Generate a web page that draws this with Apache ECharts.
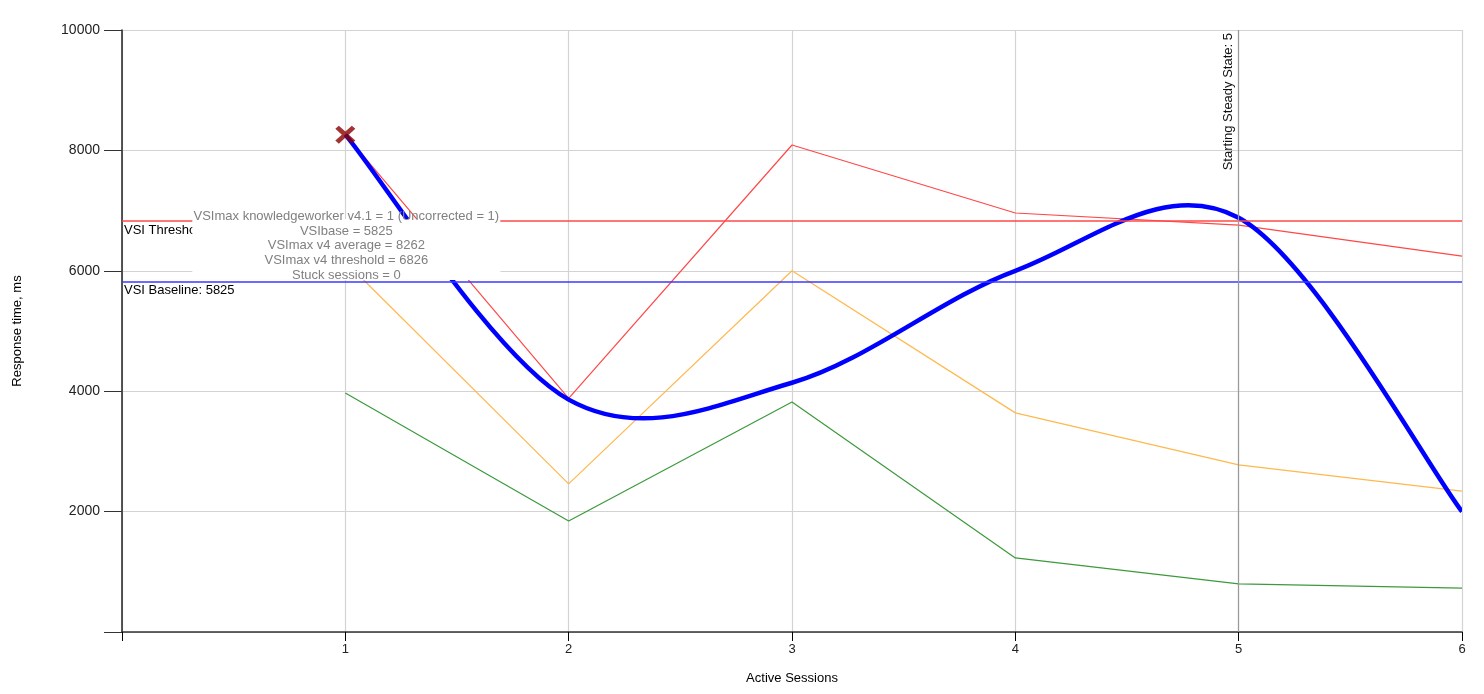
<!DOCTYPE html>
<html>
<head>
<meta charset="utf-8">
<script src="https://cdn.jsdelivr.net/npm/echarts@6/dist/echarts.min.js"></script>
<style>
html,body{margin:0;padding:0;background:#fff;}
#chart{width:1484px;height:694px;}
</style>
</head>
<body>
<div id="chart"></div>
<script>
const sessions = [1, 2, 3, 4, 5, 6];
const vsiIndexAvg = [8262, 3860, 4140, 6000, 6880, 2000];
const maxResp = [8262, 3880, 8090, 6960, 6760, 6245];
const medianResp = [6150, 2460, 6000, 3640, 2775, 2340];
const minResp = [3970, 1845, 3820, 1230, 800, 730];
const vsiThreshold = 6826;
const vsiBaseline = 5825;
const steadyStateAt = 5;
const vsimaxAt = 1;
const vsimaxValue = 8262;
const xTicks = [0, 1, 2, 3, 4, 5, 6];
const yTicks = [0, 2000, 4000, 6000, 8000, 10000];
const infoLines = [
  'VSImax knowledgeworker v4.1 = 1 (Uncorrected = 1)',
  'VSIbase = 5825',
  'VSImax v4 average = 8262',
  'VSImax v4 threshold = 6826',
  'Stuck sessions = 0'
];

const pairs = arr => sessions.map((s, i) => [s, arr[i]]);
const FONT = '"Liberation Sans", Arial, sans-serif';
const SPLINE_TENSION = 0.5; // cardinal spline tension used for the average curve

// Cardinal-spline path through the points (pixel positions from the axes' scales)
function splinePath(pts) {
  let d = 'M' + pts[0][0] + ',' + pts[0][1];
  const k = SPLINE_TENSION / 3;
  for (let i = 0; i < pts.length - 1; i++) {
    const p0 = pts[Math.max(i - 1, 0)], p1 = pts[i], p2 = pts[i + 1], p3 = pts[Math.min(i + 2, pts.length - 1)];
    const c1 = [p1[0] + (p2[0] - p0[0]) * k, p1[1] + (p2[1] - p0[1]) * k];
    const c2 = [p2[0] - (p3[0] - p1[0]) * k, p2[1] - (p3[1] - p1[1]) * k];
    d += ' C' + c1[0] + ',' + c1[1] + ' ' + c2[0] + ',' + c2[1] + ' ' + p2[0] + ',' + p2[1];
  }
  return d;
}

const chart = echarts.init(document.getElementById('chart'));
const avgData = pairs(vsiIndexAvg);
const option = {
  animation: false,
  backgroundColor: '#fff',
  textStyle: { fontFamily: FONT },
  grid: { left: 122, right: 22, top: 30, bottom: 62, containLabel: false },
  xAxis: {
    type: 'value', min: 0, max: 6, interval: 1,
    name: 'Active Sessions', nameLocation: 'middle', nameGap: 40,
    nameTextStyle: { color: '#000', fontSize: 13, fontFamily: FONT },
    axisLine: { show: true, onZero: false, lineStyle: { color: '#333', width: 1.5 } },
    axisTick: { show: true, length: 9, lineStyle: { color: '#000' } },
    axisLabel: { color: '#222', fontSize: 13, margin: 11, fontFamily: FONT,
      formatter: v => v === 0 ? '' : String(v) },
    splitLine: { show: true, lineStyle: { color: '#d3d3d3', width: 1.2 } }
  },
  yAxis: {
    type: 'value', min: 0, max: 10000, interval: 2000,
    name: 'Response time, ms', nameLocation: 'middle', nameGap: 98, nameRotate: 90,
    nameTextStyle: { color: '#000', fontSize: 13, fontFamily: FONT },
    axisLine: { show: true, onZero: false, lineStyle: { color: '#222', width: 1.5 } },
    axisTick: { show: true, length: 18, lineStyle: { color: '#333' } },
    axisLabel: { color: '#222', fontSize: 14, margin: 22, fontFamily: FONT,
      formatter: v => v === 0 ? '' : String(v) },
    splitLine: { show: true, lineStyle: { color: '#d3d3d3', width: 1.2 } }
  },
  series: [
    {
      name: 'Min', type: 'line', data: pairs(minResp), symbol: 'none',
      lineStyle: { color: '#3c9a3c', width: 1.2 }, z: 2
    },
    {
      name: 'Median', type: 'line', data: pairs(medianResp), symbol: 'none',
      lineStyle: { color: '#ffb84d', width: 1.2 }, z: 2
    },
    {
      name: 'Max', type: 'line', data: pairs(maxResp), symbol: 'none',
      lineStyle: { color: '#ff4848', width: 1.2 }, z: 3,
      markLine: {
        silent: true, symbol: 'none',
        data: [
          { yAxis: vsiThreshold, lineStyle: { color: '#ff4848', width: 1.5, type: 'solid' },
            label: { show: true, position: 'insideStartBottom', formatter: 'VSI Threshold: ' + vsiThreshold,
              color: '#000', fontSize: 13, fontFamily: FONT, distance: [2, 3] } },
          { yAxis: vsiBaseline, lineStyle: { color: '#3a3aff', width: 1.5, type: 'solid' },
            label: { show: true, position: 'insideStartBottom', formatter: 'VSI Baseline: ' + vsiBaseline,
              color: '#000', fontSize: 13, fontFamily: FONT, distance: [2, 3] } },
          { xAxis: steadyStateAt, lineStyle: { color: '#999', width: 1.2, type: 'solid' },
            label: { show: true, position: 'insideEndTop', formatter: 'Starting Steady State: ' + steadyStateAt,
              color: '#111', fontSize: 13, fontFamily: FONT, distance: [3, 4] } }
        ]
      }
    },
    {
      name: 'VSI Index Average', type: 'custom', data: avgData,
      encode: { x: 0, y: 1 }, z: 4, clip: true,
      renderItem: function (params, api) {
        if (params.dataIndex !== 0) return null;
        const pts = avgData.map(p => api.coord(p));
        return {
          type: 'path',
          shape: { pathData: splinePath(pts) },
          style: { stroke: '#0000ff', lineWidth: 4.5, fill: 'none', lineJoin: 'round' }
        };
      }
    },
    {
      name: 'VSImax', type: 'scatter', data: [[vsimaxAt, vsimaxValue]],
      symbol: 'path://M3.5,0 L10,6.5 L16.5,0 L20,3.5 L13.5,10 L20,16.5 L16.5,20 L10,13.5 L3.5,20 L0,16.5 L6.5,10 L0,3.5 Z',
      symbolSize: [20, 18],
      itemStyle: { color: '#8b0000' }, z: 6
    }
  ]
};
chart.setOption(option);

// info box anchored at the VSImax session
const cx = chart.convertToPixel({ gridIndex: 0 }, [vsimaxAt, vsiThreshold]);
const boxTop = cx[1] - 2;
const lineH = 14.6;
const texts = infoLines.map((t, i) => ({
  type: 'text', z: 101,
  style: { text: t, x: cx[0] + 1, y: cx[1] - 11 + i * lineH, align: 'center', verticalAlign: 'top',
    fill: '#808080', font: '13px ' + FONT }
}));
chart.setOption({
  graphic: [
    { type: 'rect', z: 100, shape: { x: cx[0] - 153, y: boxTop, width: 308, height: 61 },
      style: { fill: '#fff' } },
    ...texts
  ]
});
</script>
</body>
</html>
